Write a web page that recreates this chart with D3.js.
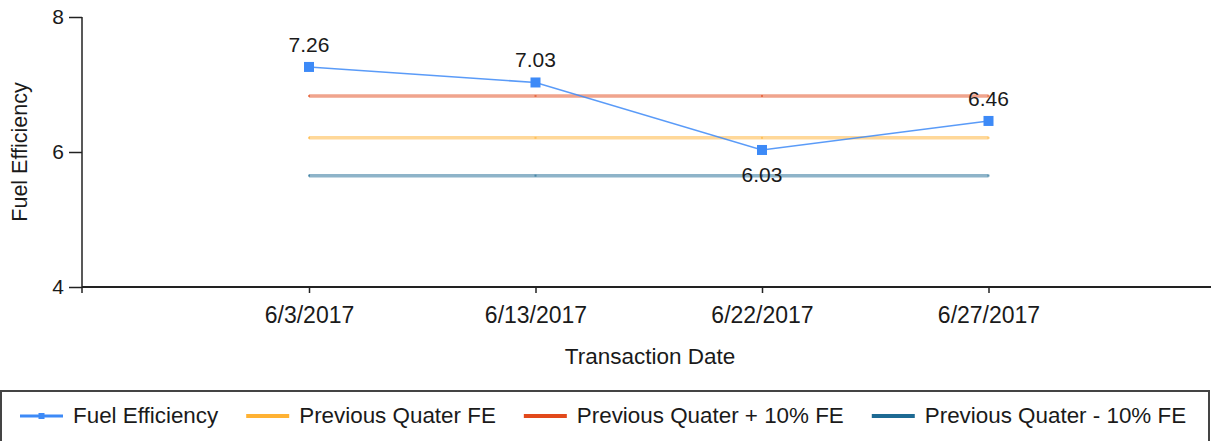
<!DOCTYPE html>
<html>
<head>
<meta charset="utf-8">
<script src="https://cdn.jsdelivr.net/npm/d3@7"></script>
<style>
  html, body { margin: 0; padding: 0; background: #fff; }
  svg { display: block; font-family: "Liberation Sans", Arial, sans-serif; }
</style>
</head>
<body>
<svg id="chart" width="1211" height="441"></svg>
<script>
// ---- data ----
const categories = ["6/3/2017", "6/13/2017", "6/22/2017", "6/27/2017"];
const fuelEfficiency = [7.26, 7.03, 6.03, 6.46];
const prevQuarterFE = [6.21, 6.21, 6.21, 6.21];
const prevQuarterPlus10 = [6.83, 6.83, 6.83, 6.83];
const prevQuarterMinus10 = [5.65, 5.65, 5.65, 5.65];
const yTicks = [4, 6, 8];
const seriesNames = ["Fuel Efficiency", "Previous Quater FE", "Previous Quater + 10% FE", "Previous Quater - 10% FE"];
const seriesColors = ["#3d8af7", "#ffb233", "#e2491b", "#1d6a93"];

const svg = d3.select("#chart");
const W = 1211, H = 441;

const x = d3.scalePoint().domain(categories).range([82.5, 1215]).padding(1);
const y = d3.scaleLinear().domain([4, 8]).range([287, 17]);

const textColor = "#1a1a1a";

// ---- reference lines ----
const refSeries = [
  { values: prevQuarterFE, color: seriesColors[1] },
  { values: prevQuarterPlus10, color: seriesColors[2] },
  { values: prevQuarterMinus10, color: seriesColors[3] }
];
const line = d3.line().x((d, i) => x(categories[i])).y(d => y(d));

refSeries.forEach(s => {
  svg.append("path")
    .attr("d", line(s.values))
    .attr("fill", "none")
    .attr("stroke", s.color)
    .attr("stroke-opacity", 0.5)
    .attr("stroke-width", 3.5);
  svg.selectAll(null).data(s.values).enter().append("rect")
    .attr("x", (d, i) => x(categories[i]) - 1)
    .attr("y", d => y(d) - 1)
    .attr("width", 2).attr("height", 2)
    .attr("fill", s.color).attr("fill-opacity", 0.6);
});

// ---- main series ----
svg.append("path")
  .attr("d", line(fuelEfficiency))
  .attr("fill", "none")
  .attr("stroke", seriesColors[0])
  .attr("stroke-opacity", 0.85)
  .attr("stroke-width", 1.6);

svg.selectAll(".mk").data(fuelEfficiency).enter().append("rect")
  .attr("x", (d, i) => x(categories[i]) - 5)
  .attr("y", d => y(d) - 5)
  .attr("width", 10).attr("height", 10)
  .attr("fill", seriesColors[0]);

// data labels: below when the point is a local minimum, otherwise above
svg.selectAll(".lbl").data(fuelEfficiency).enter().append("text")
  .attr("x", (d, i) => x(categories[i]))
  .attr("y", (d, i) => {
    const prev = i > 0 ? fuelEfficiency[i - 1] : Infinity;
    const next = i < fuelEfficiency.length - 1 ? fuelEfficiency[i + 1] : Infinity;
    return (d < prev && d < next) ? y(d) + 32 : y(d) - 15;
  })
  .attr("text-anchor", "middle")
  .attr("font-size", 21)
  .attr("fill", textColor)
  .text(d => d.toFixed(2));

// ---- axes ----
const xAxis = svg.append("g")
  .attr("transform", `translate(0,${y(4)})`)
  .call(d3.axisBottom(x).tickSize(6).tickSizeOuter(0).tickPadding(14));
xAxis.select(".domain").attr("stroke", "#222").attr("stroke-width", 2)
  .attr("d", `M82,0H${W}`);
xAxis.selectAll(".tick line").attr("stroke", "#222").attr("stroke-width", 1.5);
xAxis.selectAll(".tick text").attr("font-size", 23).attr("fill", textColor)
  .attr("font-family", "Liberation Sans, Arial, sans-serif");

const yAxis = svg.append("g")
  .attr("transform", "translate(82,0)")
  .call(d3.axisLeft(y).tickValues(yTicks).tickFormat(d3.format("d")).tickSize(13).tickSizeOuter(0).tickPadding(5));
yAxis.select(".domain").attr("stroke", "#222").attr("stroke-width", 1.5)
  .attr("d", `M0,${y(8)}V${y(4) + 6}`);
yAxis.selectAll(".tick line").attr("stroke", "#222").attr("stroke-width", 1.5);
yAxis.selectAll(".tick text").attr("font-size", 21).attr("fill", textColor)
  .attr("font-family", "Liberation Sans, Arial, sans-serif");

// axis titles
svg.append("text")
  .attr("x", 650).attr("y", 364)
  .attr("text-anchor", "middle")
  .attr("font-size", 22.5)
  .attr("fill", textColor)
  .text("Transaction Date");

svg.append("text")
  .attr("transform", `translate(27,${(y(4) + y(8)) / 2}) rotate(-90)`)
  .attr("text-anchor", "middle")
  .attr("font-size", 21.5)
  .attr("fill", textColor)
  .text("Fuel Efficiency");

// ---- legend ----
const legend = svg.append("g");
legend.append("rect")
  .attr("x", 1).attr("y", 391)
  .attr("width", W - 3).attr("height", 60)
  .attr("fill", "#fff")
  .attr("stroke", "#444").attr("stroke-width", 2);

let lx = 20;
const ly = 416;
seriesNames.forEach((name, i) => {
  const g = legend.append("g");
  g.append("line")
    .attr("x1", lx).attr("x2", lx + 43)
    .attr("y1", ly).attr("y2", ly)
    .attr("stroke", seriesColors[i])
    .attr("stroke-width", i === 0 ? 3 : 4);
  if (i === 0) {
    g.append("rect")
      .attr("x", lx + 21.5 - 3).attr("y", ly - 3)
      .attr("width", 6).attr("height", 6)
      .attr("fill", seriesColors[0]);
  }
  const t = g.append("text")
    .attr("x", lx + 53).attr("y", ly + 7)
    .attr("font-size", 22.4)
    .attr("fill", textColor)
    .text(name);
  const w = t.node().getComputedTextLength();
  lx = lx + 53 + w + 28;
});
</script>
</body>
</html>
